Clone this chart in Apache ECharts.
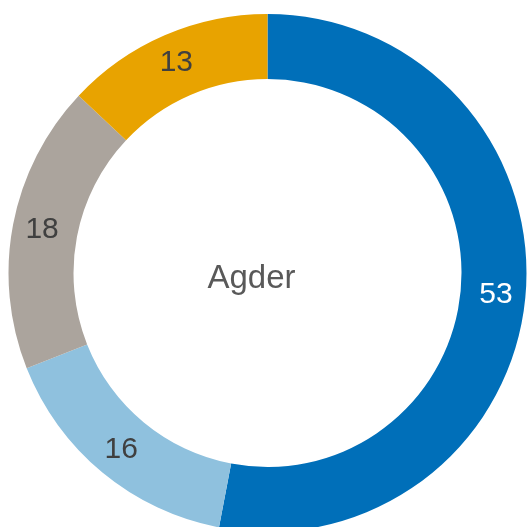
<!DOCTYPE html>
<html>
<head>
<meta charset="utf-8">
<script src="https://cdn.jsdelivr.net/npm/echarts@6/dist/echarts.min.js"></script>
<style>
  html, body { margin: 0; padding: 0; background: #fff; }
  #chart { width: 527px; height: 527px; }
</style>
</head>
<body>
<div id="chart"></div>
<script>
// data
const categories = ['A', 'B', 'C', 'D']
const values = [53, 16, 18, 13]
const colors = ['#006fb9', '#8fc1de', '#aba49d', '#e8a300']
const labelColors = ['#ffffff', '#404040', '#404040', '#404040']
const centerText = 'Agder'

const chart = echarts.init(document.getElementById('chart'))
const option = {
  animation: false,
  graphic: [
    {
      type: 'text',
      x: 251.5,
      y: 279,
      style: {
        text: centerText,
        fontFamily: 'Liberation Sans',
        fontSize: 33,
        fill: '#595959',
        align: 'center',
        verticalAlign: 'middle'
      }
    }
  ],
  series: [
    {
      type: 'pie',
      center: [267.5, 273],
      radius: [194, 259],
      startAngle: 90,
      clockwise: true,
      avoidLabelOverlap: false,
      label: {
        show: true,
        position: 'inside',
        fontFamily: 'Liberation Sans',
        fontSize: 30,
        formatter: '{c}'
      },
      labelLine: { show: false },
      emphasis: { disabled: true },
      data: categories.map((name, i) => ({
        name: name,
        value: values[i],
        itemStyle: { color: colors[i] },
        label: { color: labelColors[i] }
      }))
    }
  ]
}
chart.setOption(option)
</script>
</body>
</html>
